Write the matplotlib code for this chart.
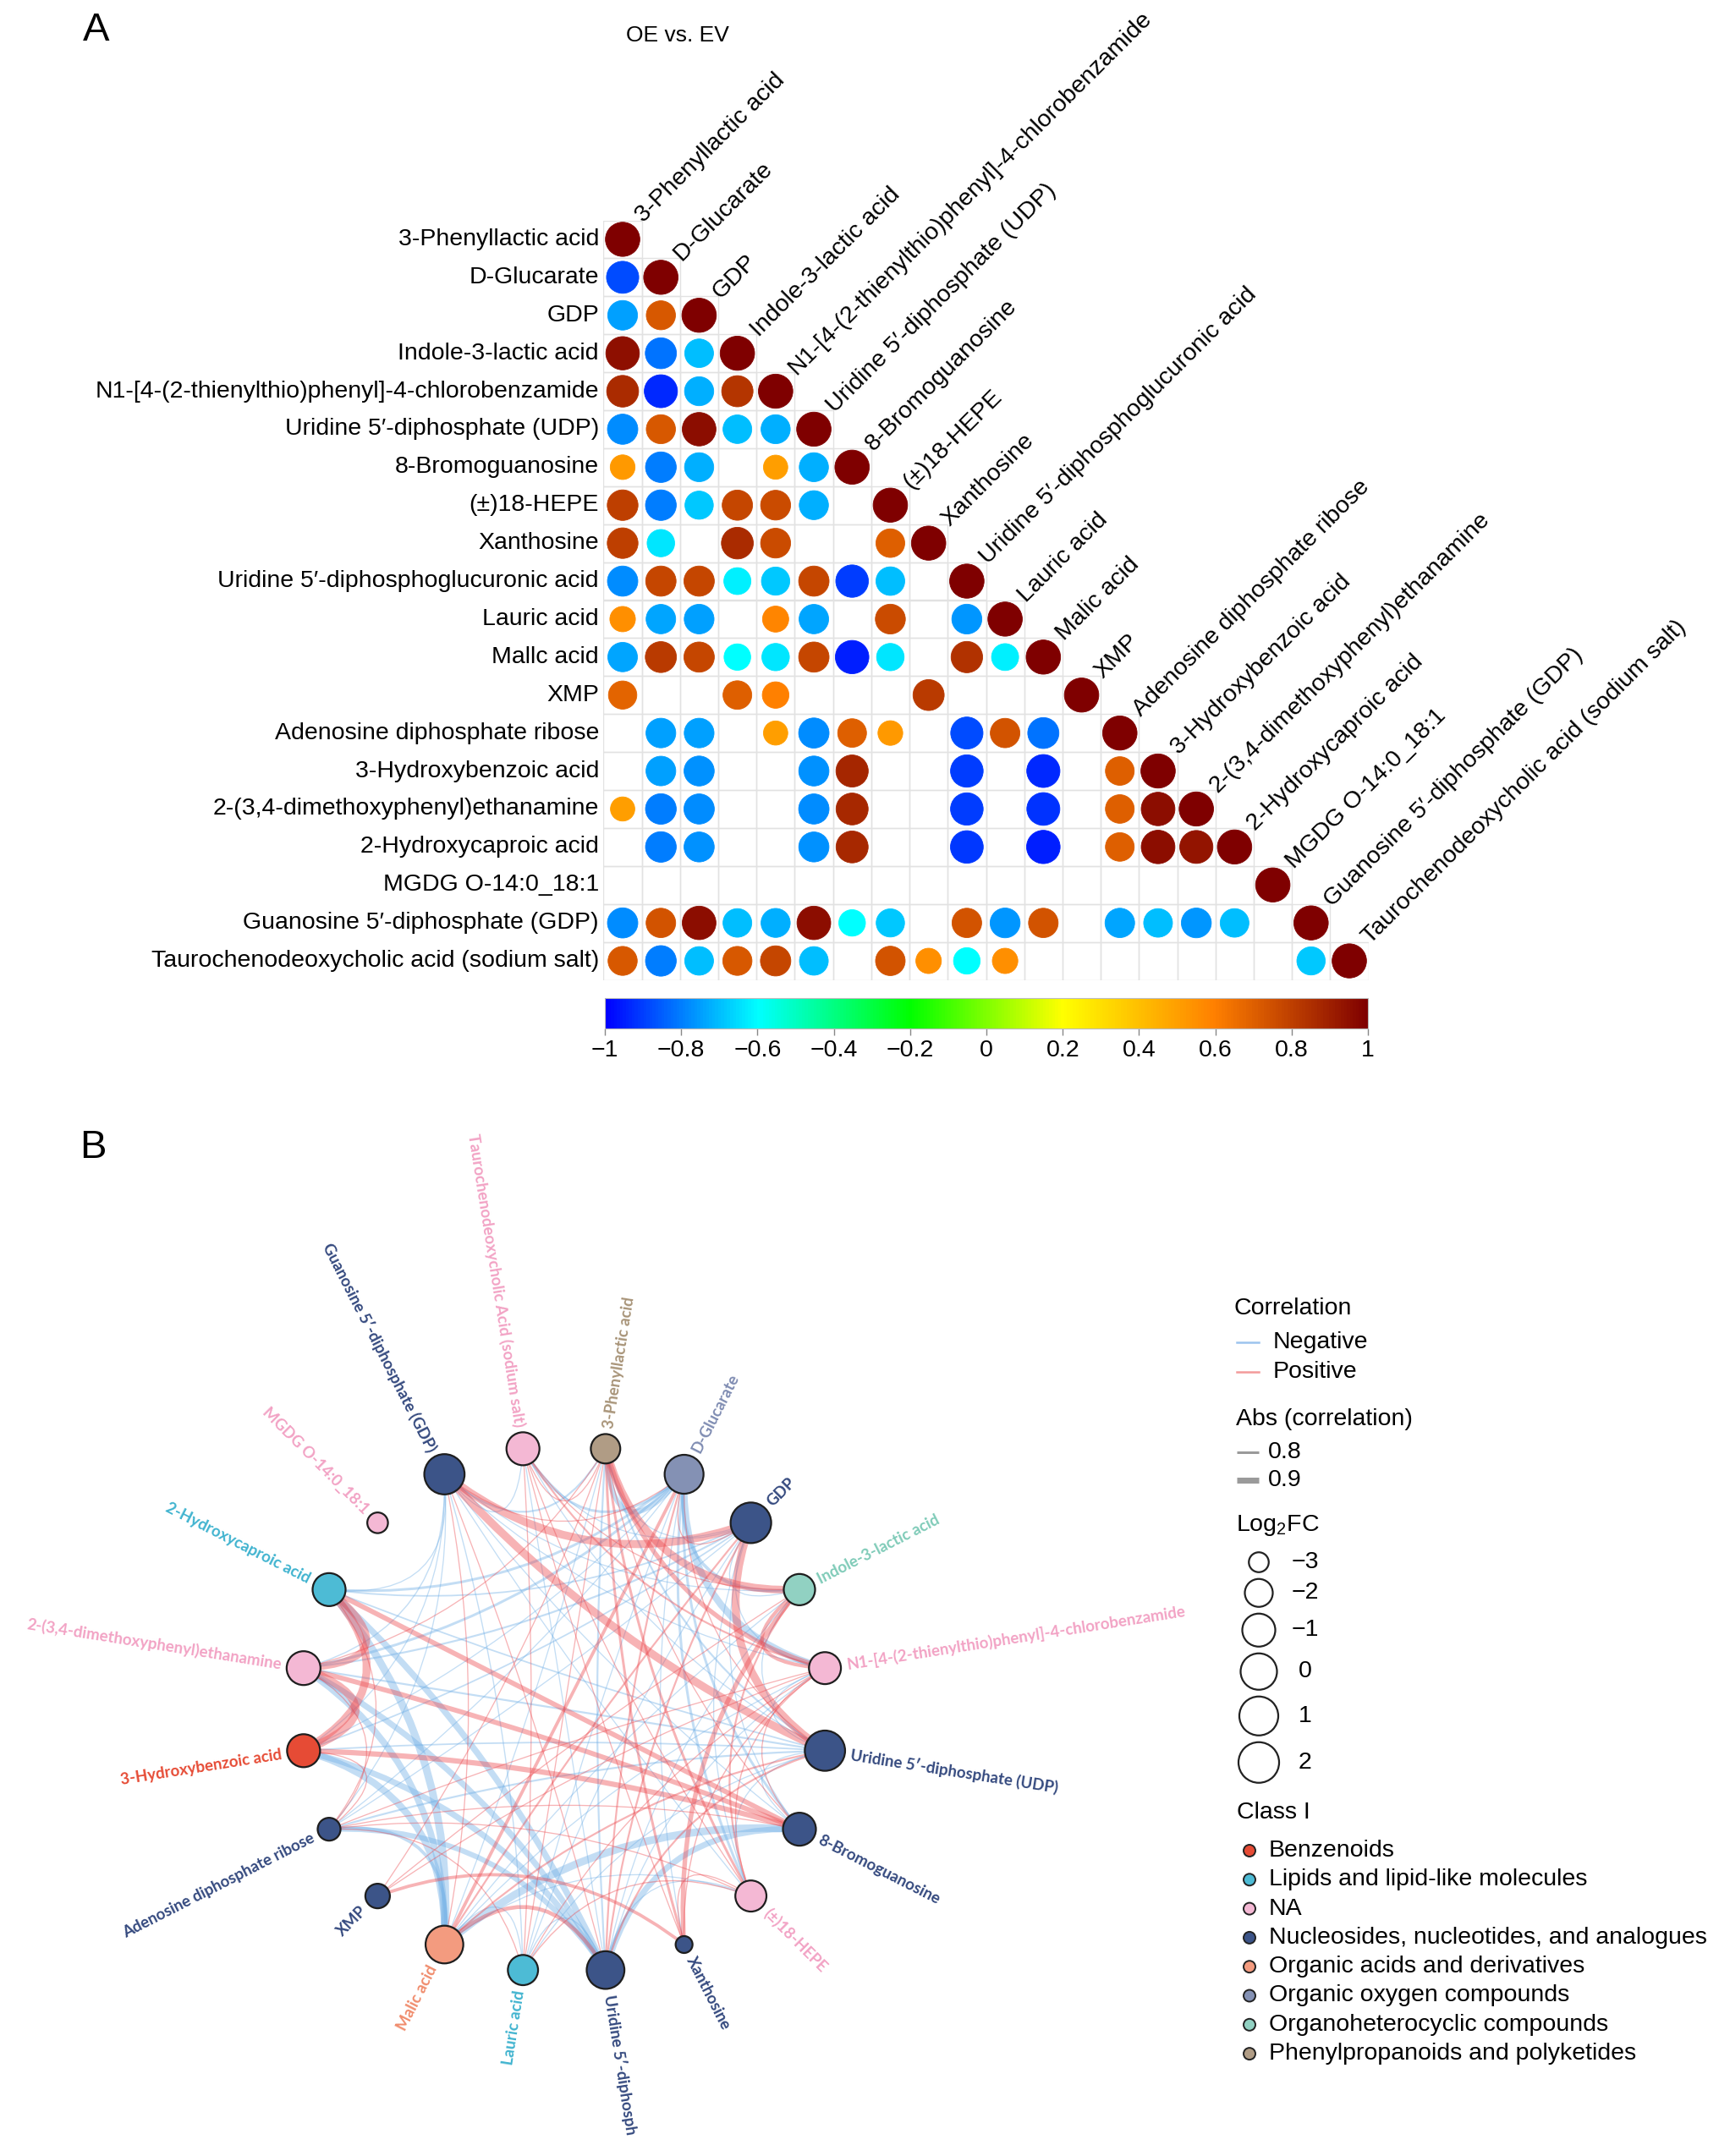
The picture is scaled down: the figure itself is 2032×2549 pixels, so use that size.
import numpy as np
import matplotlib
matplotlib.use("Agg")
import matplotlib.pyplot as plt
from matplotlib.colors import LinearSegmentedColormap, Normalize
from matplotlib.cm import ScalarMappable
from matplotlib.patches import Circle, Rectangle, PathPatch
from matplotlib.path import Path

plt.rcParams["font.family"] = ["Liberation Sans", "DejaVu Sans"]
plt.rcParams["mathtext.fontset"] = "custom"
plt.rcParams["mathtext.rm"] = "Liberation Sans"

# ---------------- data ----------------
ROW_LABELS = [
    "3-Phenyllactic acid", "D-Glucarate", "GDP", "Indole-3-lactic acid",
    "N1-[4-(2-thienylthio)phenyl]-4-chlorobenzamide", "Uridine 5\u2032-diphosphate (UDP)",
    "8-Bromoguanosine", "(\u00b1)18-HEPE", "Xanthosine",
    "Uridine 5\u2032-diphosphoglucuronic acid", "Lauric acid", "Mallc acid", "XMP",
    "Adenosine diphosphate ribose", "3-Hydroxybenzoic acid",
    "2-(3,4-dimethoxyphenyl)ethanamine", "2-Hydroxycaproic acid", "MGDG O-14:0_18:1",
    "Guanosine 5\u2032-diphosphate (GDP)", "Taurochenodeoxycholic acid (sodium salt)",
]
COL_LABELS = ROW_LABELS[:11] + ["Malic acid"] + ROW_LABELS[12:]

N = None
# lower triangle of the correlation matrix (row i holds columns 0..i), blank = None
CORR = [
    [1],
    [-0.88, 1],
    [-0.75, 0.72, 1],
    [0.95, -0.82, -0.70, 1],
    [0.86, -0.93, -0.72, 0.83, 1],
    [-0.78, 0.72, 0.96, -0.70, -0.72, 1],
    [0.52, -0.80, -0.72, N, 0.50, -0.72, 1],
    [0.80, -0.80, -0.68, 0.78, 0.76, -0.72, N, 1],
    [0.80, -0.64, N, 0.86, 0.76, N, N, 0.70, 1],
    [-0.78, 0.78, 0.78, -0.62, -0.68, 0.78, -0.90, -0.70, N, 1],
    [0.55, -0.74, -0.75, N, 0.58, -0.74, N, 0.76, N, -0.76, 1],
    [-0.74, 0.82, 0.78, -0.60, -0.64, 0.78, -0.95, -0.64, N, 0.84, -0.62, 1],
    [0.68, N, N, 0.70, 0.60, N, N, N, 0.82, N, N, N, 1],
    [N, -0.75, -0.75, N, 0.50, -0.78, 0.70, 0.52, N, -0.88, 0.74, -0.82, N, 1],
    [N, -0.75, -0.77, N, N, -0.77, 0.88, N, N, -0.90, N, -0.93, N, 0.70, 1],
    [0.50, -0.80, -0.78, N, N, -0.78, 0.87, N, N, -0.90, N, -0.92, N, 0.70, 0.96, 1],
    [N, -0.80, -0.77, N, N, -0.77, 0.87, N, N, -0.91, N, -0.95, N, 0.70, 0.96, 0.93, 1],
    [N, N, N, N, N, N, N, N, N, N, N, N, N, N, N, N, N, 1],
    [-0.78, 0.74, 0.96, -0.70, -0.72, 0.96, -0.60, -0.68, N, 0.74, -0.76, 0.74, N,
     -0.74, -0.70, -0.76, -0.70, N, 1],
    [0.72, -0.80, -0.70, 0.72, 0.78, -0.70, N, 0.74, 0.55, -0.60, 0.55, N, N, N, N, N,
     N, N, -0.68, 1],
]

NET_LABELS = [
    "3-Phenyllactic acid", "D-Glucarate", "GDP", "Indole-3-lactic acid",
    "N1-[4-(2-thienylthio)phenyl]-4-chlorobenzamide", "Uridine 5\u2032-diphosphate (UDP)",
    "8-Bromoguanosine", "(\u00b1)18-HEPE", "Xanthosine", "Uridine 5\u2032-diphosph",
    "Lauric acid", "Malic acid", "XMP", "Adenosine diphosphate ribose",
    "3-Hydroxybenzoic acid", "2-(3,4-dimethoxyphenyl)ethanamine", "2-Hydroxycaproic acid",
    "MGDG O-14:0_18:1", "Guanosine 5\u2032-diphosphate (GDP)",
    "Taurochenodeoxycholic Acid (sodium salt)",
]
NODE_CLASS = [7, 5, 3, 6, 2, 3, 3, 2, 3, 3, 1, 4, 3, 3, 0, 2, 1, 2, 3, 2]
LOG2FC = [-1.7, 1.0, 2.0, -1.33, -1.2, 1.8, -1.0, -1.37, -3.37, 0.53,
          -1.55, 0.53, -2.42, -2.63, -1.0, -0.75, -1.0, -2.9, 1.8, -1.0]

CLASSES = ["Benzenoids", "Lipids and lipid-like molecules", "NA",
           "Nucleosides, nucleotides, and analogues", "Organic acids and derivatives",
           "Organic oxygen compounds", "Organoheterocyclic compounds",
           "Phenylpropanoids and polyketides"]
CLASS_COLORS = ["#E64B35", "#4DBBD5", "#F4B8D4", "#3C5488", "#F39B7F",
                "#8491B4", "#91D1C2", "#B09C85"]
LABEL_COLORS = ["#E64B35", "#3FB3CF", "#F2A2C4", "#34497E", "#F08C6C",
                "#7F8CB2", "#7FCBB8", "#A89478"]

LFC_LEGEND = [-3, -2, -1, 0, 1, 2]
CB_TICKS = [-1, -0.8, -0.6, -0.4, -0.2, 0, 0.2, 0.4, 0.6, 0.8, 1]

# size scale for nodes (log2FC -> diameter in px)
LFC_BREAKS = [-4, -3, -2, -1, 0, 1, 2]
LFC_DIAM = [14, 23.5, 33, 39, 43, 46, 48]


def node_diam(v):
    return np.interp(v, LFC_BREAKS, LFC_DIAM)


def edge_width_pt(r):
    return np.clip(3 + (abs(r) - 0.8) * 40, 1.3, 11) * 0.72


W, H = 2032, 2549
fig = plt.figure(figsize=(W / 100, H / 100), dpi=100)


def px_axes(x0, y0, x1, y1):
    return fig.add_axes([x0 / W, 1 - y1 / H, (x1 - x0) / W, (y1 - y0) / H])


cmap = LinearSegmentedColormap.from_list(
    "corr", ["#0000FF", "#00FFFF", "#00FF00", "#FFFF00", "#FF8000", "#7F0000"])
norm = Normalize(-1, 1)
FS = 20.5

# ---------------- panel A: correlation matrix ----------------
ax = px_axes(713.4, 260.5, 1617.6, 1158.5)
n = len(ROW_LABELS)
ax.set_xlim(-0.5, n - 0.5)
ax.set_ylim(n - 0.5, -0.5)
ax.axis("off")
for i, row in enumerate(CORR):
    for j, r in enumerate(row):
        ax.add_patch(Rectangle((j - 0.5, i - 0.5), 1, 1, fill=False,
                               ec="#E2E2E2", lw=1.0))
for i, row in enumerate(CORR):
    for j, r in enumerate(row):
        if r is None:
            continue
        c = cmap(norm(r))
        ax.add_patch(Circle((j, i), 0.45 * np.sqrt(abs(r)), fc=c, ec=c, lw=0.6, zorder=3))
for i, lab in enumerate(ROW_LABELS):
    ax.text(-0.62, i, lab, ha="right", va="center", fontsize=FS, clip_on=False)
for i, lab in enumerate(COL_LABELS):
    ax.text(i + 0.55, i - 0.42, lab, ha="left", va="baseline", rotation=45,
            rotation_mode="anchor", fontsize=FS, clip_on=False)

fig.text(801 / W, 1 - 42 / H, "OE vs. EV", ha="center", va="center", fontsize=19)
fig.text(114 / W, 1 - 36 / H, "A", ha="center", va="center", fontsize=34)
fig.text(110 / W, 1 - 1357 / H, "B", ha="center", va="center", fontsize=34)

cax = px_axes(715, 1180, 1617, 1216)
cb = fig.colorbar(ScalarMappable(norm=norm, cmap=cmap), cax=cax, orientation="horizontal")
cb.set_ticks(CB_TICKS)
cb.set_ticklabels([("%g" % t).replace("-", "\u2212") for t in CB_TICKS])
cb.ax.tick_params(labelsize=FS, length=6, width=1, color="#888888", pad=3)
cb.outline.set_edgecolor("#BBBBBB")
cb.outline.set_linewidth(0.8)

# ---------------- panel B: circular network ----------------
CX, CY, R = 667, 2021, 312
axn = px_axes(0, 1300, 1400, H)
axn.set_xlim(-CX, 1400 - CX)
axn.set_ylim(-(H - CY), CY - 1300)
axn.axis("off")

ang = np.deg2rad(81 - 18 * np.arange(n))
pts = np.column_stack([R * np.cos(ang), R * np.sin(ang)])

edges = []
for i, row in enumerate(CORR):
    for j, r in enumerate(row):
        if r is None or i == j:
            continue
        edges.append((i, j, r))
# negatives below positives
edges.sort(key=lambda e: e[2] > 0)
for i, j, r in edges:
    p1, p2 = pts[i], pts[j]
    ctrl = 0.6 * (p1 + p2) / 2
    path = Path([p1, ctrl, p2], [Path.MOVETO, Path.CURVE3, Path.CURVE3])
    col = "#EC4A50" if r > 0 else "#72B0E6"
    axn.add_patch(PathPatch(path, fill=False, ec=col, lw=edge_width_pt(r),
                            alpha=0.42, capstyle="round", zorder=1))

for k in range(n):
    d = node_diam(LOG2FC[k])
    x, y = pts[k]
    axn.add_patch(Circle((x, y), d / 2, fc=CLASS_COLORS[NODE_CLASS[k]],
                         ec="#1E1E1E", lw=1.6, zorder=3))
    th = ang[k]
    rl = R + d / 2 + 7
    deg = np.rad2deg(th)
    if np.cos(th) >= 0:
        rot, ha = deg, "left"
    else:
        rot, ha = deg - 180, "right"
    axn.text(rl * np.cos(th), rl * np.sin(th), NET_LABELS[k], rotation=rot,
             rotation_mode="anchor", ha=ha, va="center", fontsize=13.5,
             family=["Lato", "DejaVu Sans"], fontweight="bold",
             color=LABEL_COLORS[NODE_CLASS[k]], clip_on=False, zorder=4)

# ---------------- panel B legend ----------------
axl = fig.add_axes([0, 0, 1, 1])
axl.set_xlim(0, W)
axl.set_ylim(H, 0)
axl.axis("off")

axl.text(1459, 1547, "Correlation", ha="left", va="center", fontsize=FS)
axl.plot([1462, 1488], [1587, 1587], color="#9CC4EE", lw=1.8)
axl.text(1505, 1587, "Negative", ha="left", va="center", fontsize=FS)
axl.plot([1462, 1488], [1622, 1622], color="#F39A9A", lw=1.8)
axl.text(1505, 1622, "Positive", ha="left", va="center", fontsize=FS)

axl.text(1461, 1678, "Abs (correlation)", ha="left", va="center", fontsize=FS)
for v, yy in [(0.8, 1717), (0.9, 1750)]:
    axl.plot([1462, 1488], [yy, yy], color="#9A9A9A", lw=edge_width_pt(v),
             solid_capstyle="butt")
    axl.text(1499, yy, "%g" % v, ha="left", va="center", fontsize=FS)

axl.text(1461, 1803, r"Log$_\mathregular{2}$FC", ha="left", va="center", fontsize=FS)
yy = 1847
prev = None
for v in LFC_LEGEND:
    d = node_diam(v)
    if prev is not None:
        yy += prev / 2 + d / 2 + 8
    axl.add_patch(Circle((1488, yy), d / 2, fill=False, ec="#222222", lw=1.6))
    axl.text(1543, yy, ("%d" % v).replace("-", "\u2212"), ha="center", va="center",
             fontsize=FS)
    prev = d

axl.text(1462, 2143, "Class I", ha="left", va="center", fontsize=FS)
for c, (name, col) in enumerate(zip(CLASSES, CLASS_COLORS)):
    yy = 2188 + 34.3 * c
    axl.add_patch(Circle((1477, yy), 7, fc=col, ec="#222222", lw=1.4))
    axl.text(1500, yy, name, ha="left", va="center", fontsize=FS)

fig.savefig("out.png", dpi=100)
